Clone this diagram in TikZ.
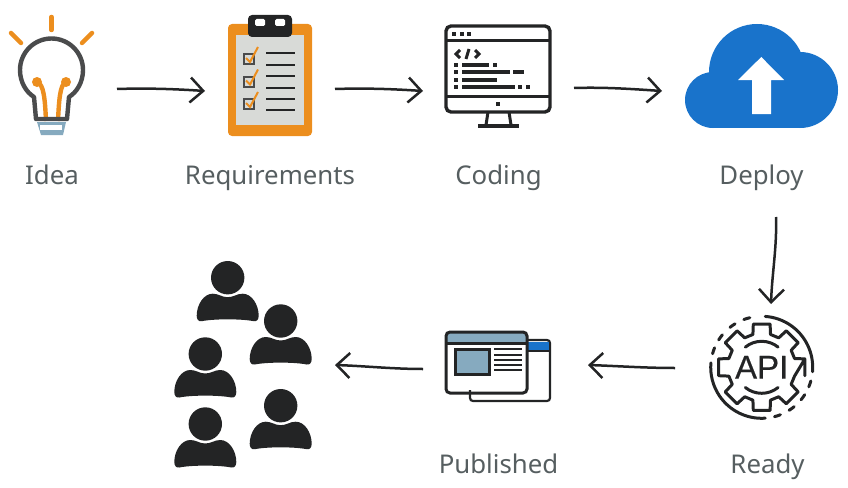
\documentclass[tikz,border=0pt]{standalone}
\usepackage{fontspec}
\setmainfont{Noto Sans}
\newfontfamily\apifont[FakeBold=0.5]{Liberation Sans}
\usetikzlibrary{arrows.meta}

\definecolor{inkdark}{HTML}{232425}
\definecolor{bulbgrey}{HTML}{4A4B4C}
\definecolor{signorange}{HTML}{EC8E1E}
\definecolor{papergrey}{HTML}{D8DAD7}
\definecolor{cloudblue}{HTML}{1973CB}
\definecolor{steelblue}{HTML}{86AABF}
\definecolor{labelgrey}{HTML}{565E60}

\tikzset{
  steplabel/.style={anchor=base, text=labelgrey, font=\fontsize{25.8}{26}\selectfont},
  flow/.style={draw=inkdark, line width=2.5pt, -{Straight Barb[length=13pt, width=25pt, line width=2.5pt]}},
  ink/.style={draw=inkdark, line width=3pt},
  rays/.style={draw=signorange, line width=4.5pt, line cap=round},
}

\begin{document}
\begin{tikzpicture}[x=1pt, y=-1pt]
  \useasboundingbox (0,0) rectangle (848,487);

  % Arrow ends first
  \coordinate (idea out) at (117,89);
  \coordinate (req in) at (205,91);
  \coordinate (req out) at (335,89);
  \coordinate (code in) at (423,91);
  \coordinate (code out) at (574,88);
  \coordinate (deploy in) at (662,91);
  \coordinate (deploy out) at (776,217);
  \coordinate (ready in) at (771,304);
  \coordinate (ready out) at (675,368);
  \coordinate (pub in) at (588,365);
  \coordinate (pub out) at (423,369);
  \coordinate (users in) at (335,365);

  % Labels
  \node [steplabel] (idea) at (52,184) {Idea};
  \node [steplabel] (req) at (270,184) {Requirements};
  \node [steplabel] (code) at (498.5,184) {Coding};
  \node [steplabel] (deploy) at (761.5,184) {Deploy};
  \node [steplabel] (pub) at (498.5,473) {Published};
  \node [steplabel] (ready) at (767.5,473) {Ready};

  % Light bulb
  \draw [rays] (51.5,17) -- (51.5,30);
  \draw [rays] (11,33) -- (21,43);
  \draw [rays] (92,33) -- (82,43);
  \draw [draw=signorange, line width=4.4pt] (46,121) .. controls (45,100) and (44,84) .. (37,82);
  \draw [draw=signorange, line width=4.4pt] (58,121) .. controls (59,100) and (60,84) .. (66,82);
  \fill [signorange] (37,82) circle (5);
  \fill [signorange] (66,82) circle (5);
  \draw [draw=bulbgrey, line width=4.4pt, line join=round] (36,119) -- (34,97)
    .. controls (26,92) and (20,82) .. (20,70) arc (180:360:31.5)
    .. controls (83,82) and (77,92) .. (69,97) -- (67,119) -- cycle;
  \fill [steelblue] (37,122) -- (66,122) -- (63,135) -- (41,135) -- cycle;
  \fill [white] (40,125) rectangle (62,130);

  % Clipboard
  \fill [signorange, rounded corners=4pt] (228,24) rectangle (312,136);
  \fill [papergrey] (236,35) rectangle (304,125);
  \fill [inkdark, rounded corners=4pt] (248,37) -- (248,15) -- (292,15) -- (292,37) -- cycle;
  \fill [white, rounded corners=1.5pt] (255,19) rectangle (265,26);
  \fill [white, rounded corners=1.5pt] (275,19) rectangle (285,26);
  \foreach \row in {0,22.5,45} {
    \draw [draw=bulbgrey, line width=2pt] (243.5,54+\row) rectangle (254,64+\row);
    \draw [draw=signorange, line width=2pt] (246,58+\row) -- (250,62+\row) -- (258,47+\row);
  }
  \foreach \liney in {53,65,76,88,99,110}
    \draw [draw=inkdark, line width=1.8pt] (266,\liney) -- (295,\liney);

  % Monitor
  \draw [ink, line width=3.4pt, rounded corners=5pt] (446,26) rectangle (550,112);
  \draw [ink] (446,41) -- (550,41);
  \draw [ink] (446,96) -- (550,96);
  \foreach \dotx/\doty in {454/34,462/34,469/34,498/104,456/65,495/65,456/72,456/80,456/87,520/87,528/87}
    \fill [inkdark] (\dotx-2,\doty-2) rectangle (\dotx+2,\doty+2);
  \foreach \barx/\bary in {489/65,510/72,497/80,515/87}
    \fill [inkdark] (462,\bary-2) rectangle (\barx,\bary+2);
  \fill [inkdark] (513,70) rectangle (524,74);
  \draw [draw=inkdark, line width=3pt] (460,50) -- (456,54) -- (460,58);
  \draw [draw=inkdark, line width=3pt] (469,49) -- (466,59);
  \draw [draw=inkdark, line width=3pt] (475,50) -- (479,54) -- (475,58);
  \draw [ink] (488,112) -- (486,125);
  \draw [ink] (509,112) -- (511,125);
  \draw [draw=inkdark, line width=3.4pt] (478,126) -- (519,126);

  % Cloud
  \fill [cloudblue] (713,100) circle (28);
  \fill [cloudblue] (757,72) circle (48);
  \fill [cloudblue] (800,90) circle (38);
  \fill [cloudblue] (713,90) rectangle (800,128);
  \fill [white] (761.3,57) -- (784,80) -- (771,80) -- (771,114) -- (752,114) -- (752,80) -- (738,80) -- cycle;

  % Gear with the API text
  \begin{scope}[shift={(761.7,367.3)}, y=1pt]
    \draw [ink, line cap=round] (86:51) arc (86:-5:51);
    \draw [ink, line cap=round] (-86:51) arc (-86:-185:51);
    \foreach \ang in {-19,-36,-54,-72,161,144,125,107}
      \draw [ink, line cap=round] (\ang-3.5:51) arc (\ang-3.5:\ang+3.5:51);
    \draw [ink, line join=round] (11:44)
      \foreach \ang in {0,45,...,315} {
        -- (\ang-11:44) -- (\ang+11:44) -- (\ang+15:34) -- (\ang+30:34)
      } -- cycle;
    \draw [ink, line cap=round] (129:26) arc (129:51:26);
    \draw [ink, line cap=round] (-51:26) arc (-51:-129:26);
    \node [text=inkdark, font=\apifont\fontsize{33}{33}\selectfont] (api) at (0,0) {API};
  \end{scope}

  % Two browser windows
  \draw [ink, rounded corners=3pt, line width=2.2pt] (470,390) -- (470,401) -- (550,401) -- (550,340) -- (526,340);
  \fill [cloudblue] (527,342) rectangle (549,351);
  \draw [ink, line width=2.2pt] (527,351) -- (550,351);
  \fill [steelblue, rounded corners=3pt] (446,332) rectangle (527,343);
  \draw [ink, rounded corners=4pt] (446,332) rectangle (527,393);
  \draw [ink] (446,343) -- (527,343);
  \draw [ink, fill=steelblue] (455,349) rectangle (489,374);
  \foreach \liney in {349.3,355,360.3,365.3,370.3}
    \draw [draw=inkdark, line width=2.2pt] (494,\liney) -- (522,\liney);

  % Users
  \foreach \headx/\heady in {227.7/277.7,280.7/321,205.3/354,280.7/405.7,205.3/424} {
    \begin{scope}[shift={(\headx,\heady)}]
      \fill [inkdark] (0,0) circle (16.7);
      \fill [inkdark] (0,19.5) .. controls (-6,19.5) and (-9,16) .. (-15,16)
        .. controls (-24,16) and (-31,27) .. (-31,38)
        .. controls (-31,42) and (-29,44) .. (-26,43.5)
        .. controls (-14,41) and (14,41) .. (26,43.5)
        .. controls (29,44) and (31,42) .. (31,38)
        .. controls (31,27) and (24,16) .. (15,16)
        .. controls (9,16) and (6,19.5) .. (0,19.5) -- cycle;
    \end{scope}
  }

  % Flow arrows
  \draw [flow] (idea out) .. controls +(30,-1) and +(-30,-2) .. (req in);
  \draw [flow] (req out) .. controls +(30,-1) and +(-30,-2) .. (code in);
  \draw [flow] (code out) .. controls +(30,-1) and +(-30,-2) .. (deploy in);
  \draw [flow] (deploy out) .. controls +(1,30) and +(1,-30) .. (ready in);
  \draw [flow] (ready out) .. controls +(-30,0) and +(30,1) .. (pub in);
  \draw [flow] (pub out) .. controls +(-30,0) and +(30,1) .. (users in);
\end{tikzpicture}
\end{document}
